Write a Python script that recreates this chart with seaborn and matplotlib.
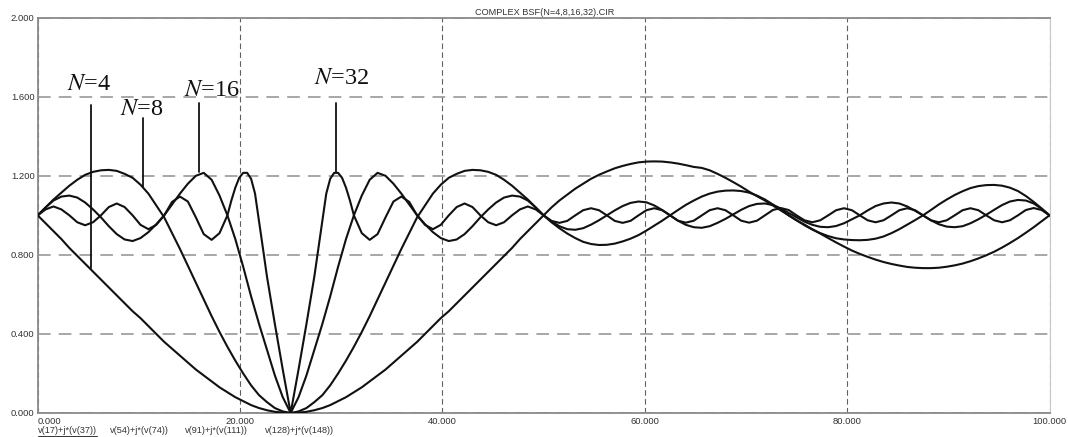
import matplotlib
matplotlib.use("Agg")
import matplotlib.pyplot as plt
import pandas as pd
import seaborn as sns
from matplotlib.lines import Line2D

# ---------------------------------------------------------------------------
# Swept response of the complex band-stop filter for N = 4, 8, 16, 32
# ---------------------------------------------------------------------------
freq = [
    0.00, 0.78, 1.56, 2.34, 3.13, 3.91, 4.69, 5.47, 6.25, 7.03, 7.81, 8.59,
    9.38, 10.16, 10.94, 11.72, 12.50, 13.28, 14.06, 14.84, 15.63, 16.41, 17.19,
    17.97, 18.75, 19.53, 20.31, 21.09, 21.88, 22.66, 23.44, 24.22, 25.00,
    25.78, 26.56, 27.34, 28.13, 28.91, 29.69, 30.47, 31.25, 32.03, 32.81,
    33.59, 34.38, 35.16, 35.94, 36.72, 37.50, 38.28, 39.06, 39.84, 40.63,
    41.41, 42.19, 42.97, 43.75, 44.53, 45.31, 46.09, 46.88, 47.66, 48.44,
    49.22, 50.00, 50.78, 51.56, 52.34, 53.13, 53.91, 54.69, 55.47, 56.25,
    57.03, 57.81, 58.59, 59.38, 60.16, 60.94, 61.72, 62.50, 63.28, 64.06,
    64.84, 65.63, 66.41, 67.19, 67.97, 68.75, 69.53, 70.31, 71.09, 71.88,
    72.66, 73.44, 74.22, 75.00, 75.78, 76.56, 77.34, 78.13, 78.91, 79.69,
    80.47, 81.25, 82.03, 82.81, 83.59, 84.38, 85.16, 85.94, 86.72, 87.50,
    88.28, 89.06, 89.84, 90.63, 91.41, 92.19, 92.97, 93.75, 94.53, 95.31,
    96.09, 96.88, 97.66, 98.44, 99.22, 100.00,
]

# N=32 has a narrow main lobe, so it is sampled more finely around the notch
freq_n32 = [
    0.00, 0.78, 1.56, 2.34, 3.13, 3.91, 4.69, 5.47, 6.25, 7.03, 7.81, 8.59,
    9.38, 10.16, 10.94, 11.72, 12.50, 13.28, 14.06, 14.84, 15.63, 16.41, 17.19,
    17.97, 18.75, 19.14, 19.53, 19.92, 20.31, 20.70, 21.09, 21.48, 21.88,
    22.27, 22.66, 23.44, 24.22, 25.00,
    25.78, 26.56, 27.34, 27.73, 28.13, 28.52, 28.91, 29.30, 29.69, 30.08,
    30.47, 30.86, 31.25, 32.03, 32.81, 33.59, 34.38, 35.16, 35.94, 36.72,
    37.50, 38.28, 39.06, 39.84, 40.63, 41.41, 42.19, 42.97, 43.75, 44.53,
    45.31, 46.09, 46.88, 47.66, 48.44, 49.22, 50.00,
    50.78, 51.56, 52.34, 53.13, 53.91, 54.69, 55.47, 56.25,
    57.03, 57.81, 58.59, 59.38, 60.16, 60.94, 61.72, 62.50, 63.28, 64.06,
    64.84, 65.63, 66.41, 67.19, 67.97, 68.75, 69.53, 70.31, 71.09, 71.88,
    72.66, 73.44, 74.22, 75.00, 75.78, 76.56, 77.34, 78.13, 78.91, 79.69,
    80.47, 81.25, 82.03, 82.81, 83.59, 84.38, 85.16, 85.94, 86.72, 87.50,
    88.28, 89.06, 89.84, 90.63, 91.41, 92.19, 92.97, 93.75, 94.53, 95.31,
    96.09, 96.88, 97.66, 98.44, 99.22, 100.00,
]

mag_n4 = [
    1.00, 0.96, 0.92, 0.88, 0.835, 0.795, 0.755, 0.715, 0.675, 0.635, 0.595,
    0.555, 0.515, 0.48, 0.44, 0.40, 0.36, 0.325, 0.29, 0.255, 0.22, 0.19,
    0.16, 0.13, 0.105, 0.08, 0.06, 0.04, 0.025, 0.014, 0.006, 0.002, 0.0,
    0.002, 0.006, 0.014, 0.025, 0.04, 0.06, 0.08, 0.105, 0.13, 0.16, 0.19,
    0.22, 0.255, 0.29, 0.325, 0.36, 0.40, 0.44, 0.48, 0.515, 0.555, 0.595,
    0.635, 0.675, 0.715, 0.755, 0.795, 0.835, 0.88, 0.92, 0.96, 1.00,
    1.04, 1.075, 1.105, 1.135, 1.16, 1.185, 1.205, 1.222, 1.238, 1.25, 1.26,
    1.268, 1.272, 1.273, 1.272, 1.268, 1.262, 1.254, 1.245, 1.24, 1.228,
    1.21, 1.19, 1.168, 1.145, 1.12, 1.097, 1.075, 1.05, 1.025, 1.0, 0.975,
    0.953, 0.93, 0.908, 0.885, 0.863, 0.842, 0.822, 0.805, 0.79, 0.776,
    0.764, 0.754, 0.746, 0.739, 0.735, 0.733, 0.733, 0.735, 0.74, 0.747,
    0.756, 0.768, 0.782, 0.798, 0.816, 0.837, 0.86, 0.885, 0.912, 0.94,
    0.97, 1.00,
]

mag_n8 = [
    1.00, 1.04, 1.08, 1.115, 1.15, 1.18, 1.205, 1.22, 1.228, 1.23, 1.225,
    1.21, 1.19, 1.155, 1.11, 1.05, 0.99, 0.91, 0.83, 0.745, 0.66, 0.575,
    0.49, 0.41, 0.335, 0.265, 0.20, 0.14, 0.09, 0.055, 0.025, 0.008, 0.0,
    0.008, 0.025, 0.055, 0.09, 0.14, 0.20, 0.265, 0.335, 0.41, 0.49, 0.575,
    0.66, 0.745, 0.83, 0.91, 0.99, 1.05, 1.11, 1.155, 1.19, 1.21, 1.225,
    1.23, 1.228, 1.22, 1.205, 1.18, 1.15, 1.115, 1.08, 1.04, 1.00,
    0.965, 0.935, 0.908, 0.885, 0.866, 0.855, 0.85, 0.851, 0.857, 0.868,
    0.882, 0.90, 0.923, 0.948, 0.973, 1.0, 1.027, 1.053, 1.075, 1.095,
    1.11, 1.12, 1.125, 1.126, 1.123, 1.115, 1.10, 1.08, 1.055, 1.03,
    1.0, 0.975, 0.95, 0.928, 0.91, 0.895, 0.884, 0.878, 0.875, 0.874,
    0.876, 0.882, 0.893, 0.91, 0.93, 0.953, 0.976, 1.0, 1.027, 1.055,
    1.08, 1.103, 1.122, 1.138, 1.148, 1.153, 1.154, 1.15, 1.14, 1.123,
    1.098, 1.068, 1.035, 1.0,
]

mag_n16 = [
    1.00, 1.04, 1.075, 1.095, 1.10, 1.09, 1.065, 1.03, 0.99, 0.945, 0.905,
    0.878, 0.87, 0.885, 0.915, 0.955, 1.00, 1.055, 1.11, 1.16, 1.20, 1.215,
    1.18, 1.10, 1.00, 0.88, 0.74, 0.59, 0.45, 0.32, 0.19, 0.08, 0.0,
    0.08, 0.19, 0.32, 0.45, 0.59, 0.74, 0.88, 1.00, 1.10, 1.18, 1.215,
    1.20, 1.16, 1.11, 1.055, 1.00, 0.955, 0.915, 0.885, 0.87, 0.878, 0.905,
    0.945, 0.99, 1.03, 1.065, 1.09, 1.10, 1.095, 1.075, 1.04, 1.00,
    0.97, 0.945, 0.93, 0.927, 0.935, 0.953, 0.975, 1.0, 1.025, 1.047,
    1.063, 1.07, 1.066, 1.05, 1.027, 1.0, 0.973, 0.952, 0.94, 0.937,
    0.945, 0.962, 0.982, 1.005, 1.028, 1.047, 1.058, 1.06, 1.052, 1.035,
    1.012, 0.99, 0.968, 0.952, 0.942, 0.94, 0.946, 0.96, 0.98, 1.0,
    1.025, 1.047, 1.06, 1.065, 1.06, 1.045, 1.023, 1.0, 0.975, 0.955,
    0.943, 0.94, 0.945, 0.96, 0.98, 1.003, 1.028, 1.052, 1.07, 1.078,
    1.075, 1.06, 1.033, 1.0,
]

mag_n32 = [
    1.00, 1.03, 1.045, 1.03, 1.00, 0.965, 0.95, 0.965, 1.00, 1.042, 1.06,
    1.042, 1.00, 0.952, 0.93, 0.952, 1.00, 1.068, 1.095, 1.07, 0.99, 0.905,
    0.876, 0.91, 1.00, 1.075, 1.14, 1.19, 1.215, 1.215, 1.185, 1.11, 0.97,
    0.83, 0.69, 0.45, 0.22, 0.00,
    0.22, 0.45, 0.69, 0.83, 0.97, 1.11, 1.185, 1.215, 1.215, 1.19,
    1.14, 1.075, 1.00, 0.91, 0.876, 0.905, 0.99, 1.07, 1.095, 1.068,
    1.00, 0.952, 0.93, 0.952, 1.00, 1.042, 1.06, 1.042, 1.00, 0.965,
    0.95, 0.965, 1.00, 1.03, 1.045, 1.03, 1.00,
    0.972, 0.962, 0.972, 1.00, 1.026, 1.036, 1.026, 1.00, 0.972, 0.962,
    0.972, 1.00, 1.026, 1.036, 1.026, 1.00, 0.973, 0.963, 0.973, 1.00,
    1.026, 1.036, 1.026, 1.00, 0.973, 0.963, 0.973, 1.00, 1.027, 1.037,
    1.027, 1.00, 0.975, 0.965, 0.975, 1.00, 1.026, 1.036, 1.026, 1.00,
    0.975, 0.965, 0.975, 1.00, 1.026, 1.036, 1.026, 1.00, 0.975, 0.965,
    0.975, 1.00, 1.026, 1.036, 1.026, 1.00, 0.975, 0.965, 0.975, 1.00,
    1.027, 1.037, 1.027, 1.00,
]

trace_names = ["v(17)+j*(v(37))", "v(54)+j*(v(74))",
               "v(91)+j*(v(111))", "v(128)+j*(v(148))"]
trace_freqs = [freq, freq, freq, freq_n32]
trace_values = [mag_n4, mag_n8, mag_n16, mag_n32]

# Callout labels and where their leader lines sit
callout_text = ["$N$=4", "$N$=8", "$N$=16", "$N$=32"]
callout_x = [5.27, 10.44, 15.98, 29.46]        # leader line abscissa
callout_tip = [0.735, 1.145, 1.22, 1.22]       # where the leader meets its curve
callout_top = [1.56, 1.495, 1.57, 1.57]        # top of the leader line

x_ticks = [0, 20, 40, 60, 80, 100]
y_ticks = [0.0, 0.4, 0.8, 1.2, 1.6, 2.0]
title_text = "COMPLEX BSF(N=4,8,16,32).CIR"

# ---------------------------------------------------------------------------
sns.set_theme(style="white")
plt.rcParams["font.family"] = ["Liberation Sans", "DejaVu Sans"]
plt.rcParams["mathtext.fontset"] = "stix"

W, H = 1068, 437
fig = plt.figure(figsize=(W / 100, H / 100), dpi=100)
fig.patch.set_facecolor("white")
left_px, right_px, top_px, bottom_px = 37.7, 1049.5, 17.7, 413.0
ax = fig.add_axes([left_px / W, 1 - bottom_px / H,
                   (right_px - left_px) / W, (bottom_px - top_px) / H])
ax.set_facecolor("white")

frames = []
for name, xs, vals in zip(trace_names, trace_freqs, trace_values):
    frames.append(pd.DataFrame({"freq": xs, "mag": vals, "trace": name}))
df = pd.concat(frames, ignore_index=True)

sns.lineplot(data=df, x="freq", y="mag", hue="trace",
             palette=["#111111"] * 4, legend=False, estimator=None,
             sort=False, linewidth=1.5, ax=ax, zorder=3)

ax.set_xlim(0, 100)
ax.set_ylim(0, 2.0)
ax.set_xticks(x_ticks)
ax.set_yticks(y_ticks)
ax.set_xticklabels([f"{v:.3f}" for v in x_ticks])
ax.set_yticklabels([f"{v:.3f}" for v in y_ticks])
ax.set_xlabel("")
ax.set_ylabel("")
ax.tick_params(axis="both", length=0, labelsize=6.8, colors="#333333")
ax.tick_params(axis="y", pad=2.2)
ax.tick_params(axis="x", pad=3.0)
ax.get_xticklabels()[0].set_horizontalalignment("left")

# dashed grid: long light dashes across, short darker dashes down
ax.yaxis.grid(True, linestyle=(0, (7, 4.5)), color="#a0a0a0", linewidth=1.3)
ax.xaxis.grid(True, linestyle=(0, (5, 3)), color="#606060", linewidth=0.8)
ax.set_axisbelow(True)

for side in ("left", "bottom", "top"):
    ax.spines[side].set_visible(True)
    ax.spines[side].set_color("#8a8a8a")
    ax.spines[side].set_linewidth(1.3)
ax.spines["right"].set_visible(True)
ax.spines["right"].set_color("#c8c8c8")
ax.spines["right"].set_linewidth(0.8)

# callouts
for txt, cx, tip, top in zip(callout_text, callout_x, callout_tip, callout_top):
    ax.plot([cx, cx], [tip, top], color="#111111", linewidth=1.3, zorder=4)
text_pos = [(5.07, 1.66), (10.26, 1.535), (17.2, 1.63), (30.0, 1.69)]
for txt, (tx, ty) in zip(callout_text, text_pos):
    ax.text(tx, ty, txt, ha="center", va="center", fontsize=17.5,
            family="Liberation Serif", color="#111111", zorder=5)

# title above the plot frame
fig.text(545 / W, 1 - 12.5 / H, title_text, ha="center", va="center",
         fontsize=6.6, color="#333333")

# trace names along the bottom, first one underlined
name_px = [37.7, 110.0, 185.0, 265.0]
for i, (name, px) in enumerate(zip(trace_names, name_px)):
    t = fig.text(px / W, 1 - 430.5 / H, name, ha="left", va="center",
                 fontsize=6.6, color="#333333")
    if i == 0:
        fig.canvas.draw()
        bb = t.get_window_extent()
        y_ul = (bb.y0 - 0.5) / H
        fig.add_artist(Line2D([bb.x0 / W, bb.x1 / W], [y_ul, y_ul],
                              transform=fig.transFigure, color="#333333",
                              linewidth=0.7))

fig.savefig("out.png", dpi=100, facecolor="white")
